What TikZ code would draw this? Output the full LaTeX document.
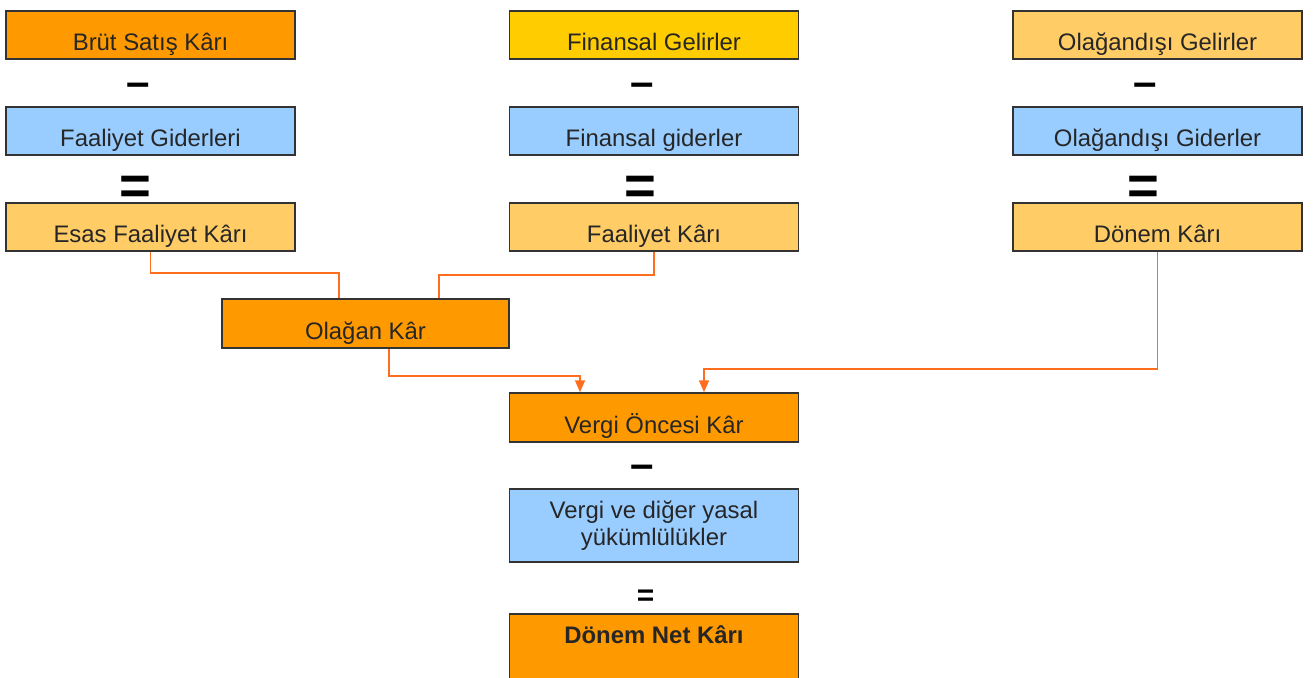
\documentclass[tikz,border=0pt]{standalone}
\usepackage{fontspec}
\setmainfont{Liberation Sans}
\usetikzlibrary{calc,arrows.meta}

\definecolor{darkorange}{HTML}{FF9900}
\definecolor{goldbox}{HTML}{FFCC00}
\definecolor{lightorange}{HTML}{FFCC66}
\definecolor{skyblue}{HTML}{99CCFF}
\definecolor{linkorange}{HTML}{FF6D1F}

\begin{document}
\begin{tikzpicture}[x=0.02cm,y=-0.02cm,
    box/.style={draw=black!80,line width=0.85pt,inner sep=0pt,
      minimum width=5.78cm,text height=0.78cm,text depth=0.18cm,
      text=black!85,font=\fontsize{13.6}{16}\selectfont},
    sign/.style={inner sep=0pt,text=black,yshift=-0.14cm,
      font=\fontsize{24}{24}\selectfont\bfseries},
    bigsign/.style={inner sep=0pt,text=black,yshift=-0.1cm,
      font=\fontsize{31}{31}\selectfont\bfseries},
    link/.style={draw=linkorange,line width=0.9pt},
    tip/.style={-{Triangle[length=0.24cm,width=0.2cm]}}]
  \useasboundingbox (0,0) rectangle (1314,677);
  \clip (0,0) rectangle (1314,677);
  % First row
  \node [box,fill=darkorange] (brut) at (150.5,35) {Brüt Satış Kârı};
  \node [box,fill=goldbox] (fingel) at (654,35) {Finansal Gelirler};
  \node [box,fill=lightorange] (olagel) at (1157.5,35) {Olağandışı Gelirler};
  \node [sign] (m1) at (138,83) {–};
  \node [sign] (m2) at (642,83) {–};
  \node [sign] (m3) at (1145.5,83) {–};
  % Second row
  \node [box,fill=skyblue] (faalgid) at (150.5,131) {Faaliyet Giderleri};
  \node [box,fill=skyblue] (fingid) at (654,131) {Finansal giderler};
  \node [box,fill=skyblue] (olagid) at (1157.5,131) {Olağandışı Giderler};
  \node [bigsign] (e1) at (135.5,185) {=};
  \node [bigsign] (e2) at (640,185) {=};
  \node [bigsign] (e3) at (1143.5,185) {=};
  % Third row
  \node [box,fill=lightorange] (esas) at (150.5,227) {Esas Faaliyet Kârı};
  \node [box,fill=lightorange] (faal) at (654,227) {Faaliyet Kârı};
  \node [box,fill=lightorange] (donem) at (1157.5,227) {Dönem Kârı};
  % Olagan and pre-tax profit
  \node [box,fill=darkorange,minimum width=5.74cm,text height=0.8cm]
    (olagan) at (365.5,323.5) {Olağan Kâr};
  \node [box,fill=darkorange,text height=0.8cm] (vok) at (654,417.5)
    {Vergi Öncesi Kâr};
  \node [sign] (m4) at (642,465) {–};
  \node [box,fill=skyblue,align=center,text height=,text depth=,
    minimum height=1.46cm,font=\fontsize{13.6}{15.4}\selectfont]
    (vergi) at (654,525.5)
    {\rule{0pt}{0.3cm}Vergi ve diğer yasal\\yükümlülükler};
  \node [sign,yshift=0.08cm,font=\fontsize{17}{17}\selectfont\bfseries]
    (e4) at (645.5,595) {=};
  \node [box,fill=darkorange,anchor=north,text height=0.6cm,text depth=0.8cm,
    font=\fontsize{13.6}{16}\selectfont\bfseries] (net) at (654,613)
    {Dönem Net Kârı};
  % Connectors
  \coordinate (k1) at (339,273);
  \coordinate (k2) at (439,275);
  \coordinate (k3) at (580,376);
  \coordinate (k4) at (704,369);
  \coordinate (o1) at ($(olagan.south)+(23.5,0)$);
  \path [link] (esas.south) |- (k1) -- (k1 |- olagan.north);
  \path [link] (faal.south) |- (k2) -- (k2 |- olagan.north);
  \path [link,tip] (o1) |- (k3) -- (k3 |- vok.north);
  \path [link,tip] (donem.south) |- (k4) -- (k4 |- vok.north);
\end{tikzpicture}
\end{document}
